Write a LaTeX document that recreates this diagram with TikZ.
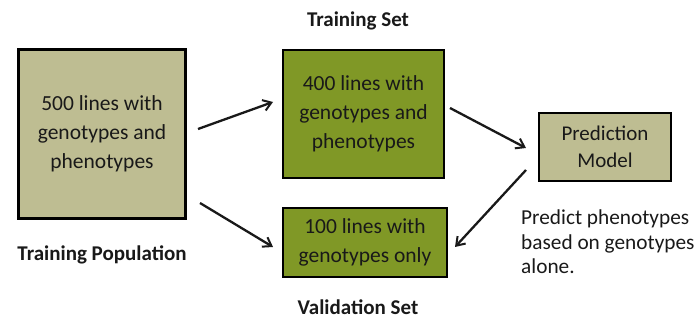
\documentclass[tikz,border=0pt]{standalone}
\usepackage{fontspec}
\setmainfont{Carlito}
\usetikzlibrary{arrows.meta}
\definecolor{khaki}{RGB}{190,189,146}
\definecolor{olivebox}{RGB}{128,152,38}
\definecolor{txt}{RGB}{25,25,25}
\begin{document}
\begin{tikzpicture}[x=1pt,y=-1pt,
  box/.style={draw=black,line width=2.2pt,inner sep=0pt,align=center,text=txt},
  lbl/.style={font=\fontsize{21}{24}\selectfont\bfseries,text=txt},
  arr/.style={-{Straight Barb[length=8pt,width=11pt,line width=2pt]},line width=2.3pt,draw=black!90}]
\useasboundingbox (0,0) rectangle (699,320);
\node[box,fill=khaki,minimum width=167pt,minimum height=169pt,font=\fontsize{21.5}{29}\selectfont] (pop) at (102,134) {500 lines with\\genotypes and\\phenotypes};
\node[box,fill=olivebox,minimum width=161pt,minimum height=128pt,font=\fontsize{21.5}{29}\selectfont] (train) at (363.5,114) {400 lines with\\genotypes and\\phenotypes};
\node[box,fill=olivebox,minimum width=164pt,minimum height=69pt,font=\fontsize{21.5}{29}\selectfont] (valid) at (365,242.5) {100 lines with\\genotypes only};
\node[box,fill=khaki,minimum width=132pt,minimum height=68pt,font=\fontsize{21}{27}\selectfont] (model) at (605,147) {Prediction\\Model};
\node[lbl] (tpop) at (102,255) {Training Population};
\node[lbl] (tset) at (358,21) {Training Set};
\node[lbl] (vset) at (358,307) {Validation Set};
\node[anchor=north west,align=left,inner sep=0pt,text=txt,font=\fontsize{21.3}{24.5}\selectfont] (note) at (521,210) {Predict phenotypes\\based on genotypes\\alone.};
\coordinate (a1s) at (198,129);
\coordinate (a1e) at (273,102);
\coordinate (a2s) at (200,203);
\coordinate (a2e) at (273,247);
\coordinate (a3s) at (450,108);
\coordinate (a3e) at (526,148);
\coordinate (a4s) at (526,170);
\coordinate (a4e) at (455,247);
\draw[arr] (a1s) -- (a1e);
\draw[arr] (a2s) -- (a2e);
\draw[arr] (a3s) -- (a3e);
\draw[arr] (a4s) -- (a4e);
\end{tikzpicture}
\end{document}
